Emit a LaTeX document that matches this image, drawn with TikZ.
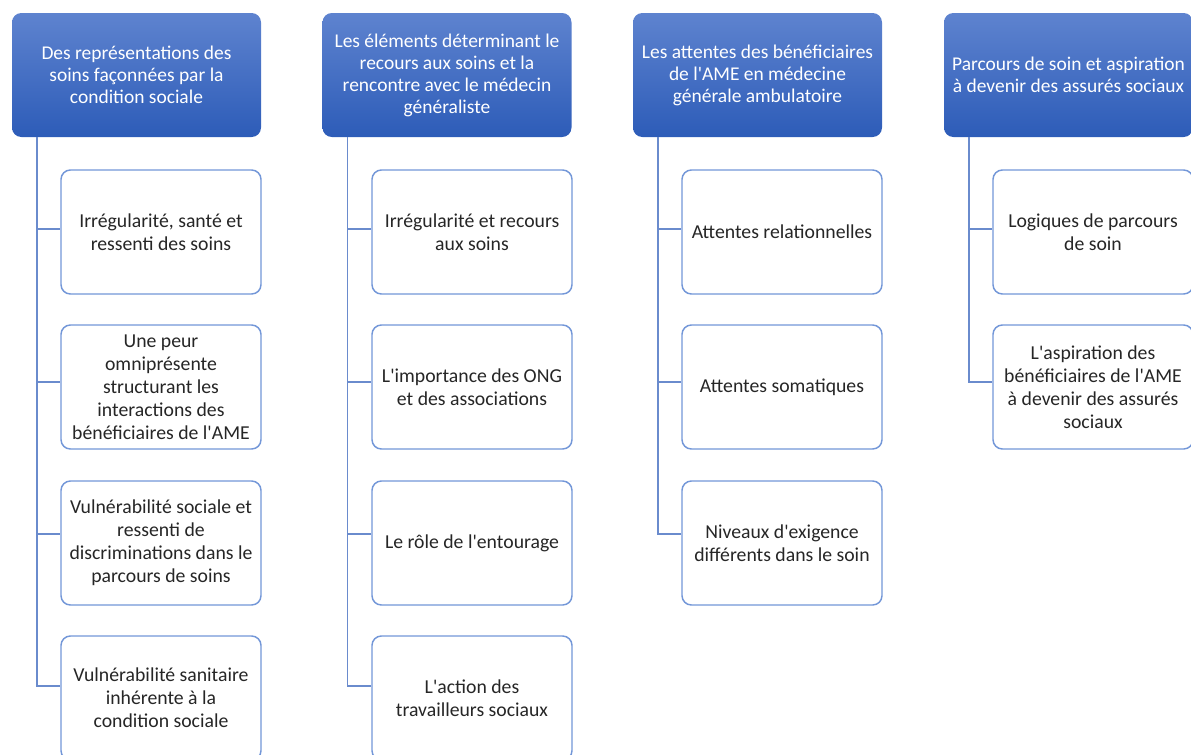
\documentclass[tikz,border=0pt]{standalone}
\usepackage{fontspec}
\setmainfont{Carlito}
\definecolor{hdtop}{HTML}{5E83CF}
\definecolor{hdbot}{HTML}{2D5CB8}
\definecolor{bord}{HTML}{7397D8}
\definecolor{lnk}{HTML}{6A8BCD}
\definecolor{txt}{HTML}{262626}
\newcommand{\ap}{\textquotesingle}
\begin{document}
\begin{tikzpicture}[x=0.75pt,y=-0.75pt,
  head/.style={rounded corners=7pt, top color=hdtop, bottom color=hdbot,
    minimum width=186.75pt, minimum height=93pt, inner sep=0pt,
    text=white, align=center, font=\fontsize{14.6}{16.5}\selectfont},
  child/.style={draw=bord, line width=1.1pt, rounded corners=7pt, fill=white,
    minimum width=150pt, minimum height=93pt, inner sep=0pt,
    text=txt, align=center, font=\fontsize{14.8}{17.2}\selectfont},
  link/.style={draw=lnk, line width=1pt}]
\useasboundingbox (0,0) rectangle (1191,754);
\clip (0,0) rectangle (1191,754);

% column headers
\node[head] (h1) at (136.5,75) {Des représentations des\\soins façonnées par la\\condition sociale};
\node[head] (h2) at (447,75) {Les éléments déterminant le\\recours aux soins et la\\rencontre avec le médecin\\généraliste};
\node[head] (h3) at (757.5,75) {Les attentes des bénéficiaires\\de l\ap AME en médecine\\générale ambulatoire};
\node[head] (h4) at (1068.5,75) {Parcours de soin et aspiration\\à devenir des assurés sociaux};

% anchor points for the vertical trunks
\coordinate (t1) at (37,137);
\coordinate (t2) at (347.5,137);
\coordinate (t3) at (658,137);
\coordinate (t4) at (969,137);

% column 1
\node[child] (c11) at (161,232) {Irrégularité, santé et\\ressenti des soins};
\node[child] (c12) at (161,387) {Une peur\\omniprésente\\structurant les\\interactions des\\bénéficiaires de l\ap AME};
\node[child] (c13) at (161,543) {Vulnérabilité sociale et\\ressenti de\\discriminations dans le\\parcours de soins};
\node[child] (c14) at (161,698) {Vulnérabilité sanitaire\\inhérente à la\\condition sociale};

% column 2
\node[child] (c21) at (472,232) {Irrégularité et recours\\aux soins};
\node[child] (c22) at (472,387) {L\ap importance des ONG\\et des associations};
\node[child] (c23) at (472,543) {Le rôle de l\ap entourage};
\node[child] (c24) at (472,698) {L\ap action des\\travailleurs sociaux};

% column 3
\node[child] (c31) at (782,232) {Attentes relationnelles};
\node[child] (c32) at (782,387) {Attentes somatiques};
\node[child] (c33) at (782,543) {Niveaux d\ap exigence\\différents dans le soin};

% column 4
\node[child] (c41) at (1093,232) {Logiques de parcours\\de soin};
\node[child] (c42) at (1093,387) {L\ap aspiration des\\bénéficiaires de l\ap AME\\à devenir des assurés\\sociaux};

% connectors
\foreach \c/\t/\s in {c11/t1/2.25pt, c12/t1/3.75pt, c13/t1/6.75pt, c14/t1/9pt,
                       c21/t2/2.25pt, c22/t2/3.75pt, c23/t2/6.75pt, c24/t2/9pt,
                       c31/t3/2.25pt, c32/t3/3.75pt, c33/t3/6.75pt,
                       c41/t4/2.25pt, c42/t4/3.75pt}
  \draw[link] (\t) |- ([yshift=\s]\c.west);
\end{tikzpicture}
\end{document}
